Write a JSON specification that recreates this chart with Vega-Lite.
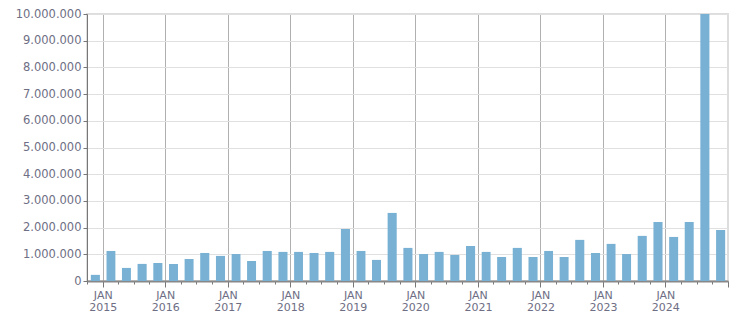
{
  "$schema": "https://vega.github.io/schema/vega-lite/v6.json",
  "autosize": "none",
  "width": 641,
  "height": 267,
  "padding": {"left": 87, "top": 14, "right": 23, "bottom": 32},
  "background": "white",
  "config": {
    "locale": {"number": {"decimal": ",", "thousands": ".", "grouping": [3], "currency": ["", ""]}},
    "view": {"stroke": "#dddddd", "strokeWidth": 2},
    "axis": {"labelFont": "DejaVu Sans", "labelFontSize": 11.5, "labelColor": "#6e6e84", "domainColor": "#777777", "tickColor": "#777777"}
  },
  "data": {"values": [
    {"date": "2014-10-01", "value": 230000},
    {"date": "2015-01-01", "value": 1125000},
    {"date": "2015-04-01", "value": 490000},
    {"date": "2015-07-01", "value": 640000},
    {"date": "2015-10-01", "value": 675000},
    {"date": "2016-01-01", "value": 640000},
    {"date": "2016-04-01", "value": 825000},
    {"date": "2016-07-01", "value": 1050000},
    {"date": "2016-10-01", "value": 940000},
    {"date": "2017-01-01", "value": 1010000},
    {"date": "2017-04-01", "value": 750000},
    {"date": "2017-07-01", "value": 1125000},
    {"date": "2017-10-01", "value": 1090000},
    {"date": "2018-01-01", "value": 1090000},
    {"date": "2018-04-01", "value": 1050000},
    {"date": "2018-07-01", "value": 1090000},
    {"date": "2018-10-01", "value": 1950000},
    {"date": "2019-01-01", "value": 1125000},
    {"date": "2019-04-01", "value": 790000},
    {"date": "2019-07-01", "value": 2550000},
    {"date": "2019-10-01", "value": 1240000},
    {"date": "2020-01-01", "value": 1010000},
    {"date": "2020-04-01", "value": 1090000},
    {"date": "2020-07-01", "value": 975000},
    {"date": "2020-10-01", "value": 1310000},
    {"date": "2021-01-01", "value": 1090000},
    {"date": "2021-04-01", "value": 900000},
    {"date": "2021-07-01", "value": 1240000},
    {"date": "2021-10-01", "value": 900000},
    {"date": "2022-01-01", "value": 1125000},
    {"date": "2022-04-01", "value": 900000},
    {"date": "2022-07-01", "value": 1540000},
    {"date": "2022-10-01", "value": 1050000},
    {"date": "2023-01-01", "value": 1390000},
    {"date": "2023-04-01", "value": 1010000},
    {"date": "2023-07-01", "value": 1690000},
    {"date": "2023-10-01", "value": 2210000},
    {"date": "2024-01-01", "value": 1650000},
    {"date": "2024-04-01", "value": 2210000},
    {"date": "2024-07-01", "value": 10000000},
    {"date": "2024-10-01", "value": 1910000}
  ]},
  "mark": {"type": "bar", "color": "#78b1d4", "width": {"band": 0.64}, "clip": true},
  "encoding": {
    "x": {
      "field": "date", "type": "temporal", "timeUnit": "yearquarter", "title": null,
      "scale": {"domain": [{"year": 2014, "month": 10, "date": 1}, {"year": 2025, "month": 1, "date": 1}]},
      "axis": {
        "tickCount": {"interval": "month", "step": 3},
        "labelExpr": "month(datum.value) == 0 && year(datum.value) < 2025 ? ['JAN', timeFormat(datum.value, '%Y')] : ''",
        "labelFlush": false,
        "labelOverlap": false,
        "labelFontSize": 11,
        "labelLineHeight": 12,
        "labelPadding": 2,
        "grid": true,
        "gridColor": "#b0b0b0",
        "gridOpacity": {"condition": {"test": "month(datum.value) == 0 && year(datum.value) < 2025", "value": 1}, "value": 0},
        "tickSize": {"condition": {"test": "month(datum.value) == 0", "value": 6}, "value": 3},
        "domainWidth": 2,
        "domainColor": "#888888"
      }
    },
    "y": {
      "field": "value", "type": "quantitative", "title": null,
      "scale": {"domain": [0, 10000000], "nice": false},
      "axis": {"values": [0,1000000,2000000,3000000,4000000,5000000,6000000,7000000,8000000,9000000,10000000], "format": ",d", "gridColor": "#e0e0e0", "tickSize": 4, "labelPadding": 2, "domainColor": "#777777"}
    }
  }
}
